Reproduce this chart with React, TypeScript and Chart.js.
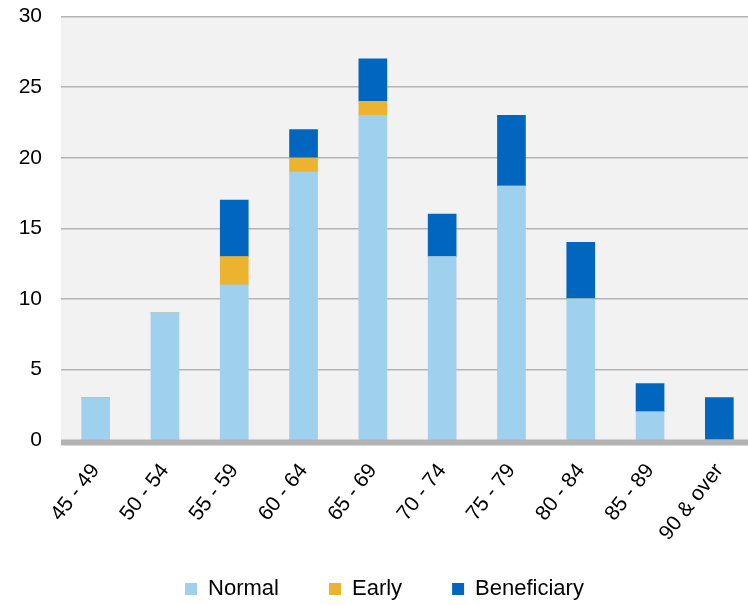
import React, { useEffect, useRef } from "react";
import { Chart, registerables } from "chart.js";

Chart.register(...registerables);

const categories = ["45 - 49", "50 - 54", "55 - 59", "60 - 64", "65 - 69", "70 - 74", "75 - 79", "80 - 84", "85 - 89", "90 & over"];
const normal = [3, 9, 11, 19, 23, 13, 18, 10, 2, 0];
const early = [0, 0, 2, 1, 1, 0, 0, 0, 0, 0];
const beneficiary = [0, 0, 4, 2, 3, 3, 5, 4, 2, 3];
const seriesNames = ["Normal", "Early", "Beneficiary"];
const seriesColors = ["#9fd0ed", "#ebb330", "#0066bf"];
const yMin = 0;
const yMax = 30;
const yStep = 5;

const W = 760;
const H = 610;
const FONT = "'Liberation Sans', Arial, sans-serif";

const areaPlugin = {
  id: "areaPlugin",
  beforeDraw(chart: any) {
    const { ctx, chartArea } = chart;
    ctx.save();
    ctx.fillStyle = "#f2f2f2";
    ctx.fillRect(chartArea.left, chartArea.top, chartArea.right - chartArea.left, chartArea.bottom - chartArea.top);
    ctx.restore();
  },
  afterDatasetsDraw(chart: any) {
    const { ctx, chartArea } = chart;
    ctx.save();
    ctx.fillStyle = "#b3b3b3";
    ctx.fillRect(chartArea.left, chartArea.bottom - 0.5, chartArea.right - chartArea.left, 6);
    ctx.restore();
  },
};

export default function App() {
  const ref = useRef<HTMLCanvasElement | null>(null);

  useEffect(() => {
    if (!ref.current) return;
    const data = [normal, early, beneficiary];
    const chart = new Chart(ref.current, {
      type: "bar",
      data: {
        labels: categories,
        datasets: seriesNames.map((name, i) => ({
          label: name,
          data: data[i],
          backgroundColor: seriesColors[i],
          borderWidth: 0,
          barThickness: 28,
        })),
      },
      options: {
        responsive: false,
        animation: false,
        devicePixelRatio: 1,
        layout: { padding: { left: 15, right: 6, top: 0, bottom: 0 } },
        plugins: {
          tooltip: { enabled: false },
          legend: {
            position: "bottom",
            labels: {
              boxWidth: 12,
              boxHeight: 12,
              padding: 50,
              color: "#000",
              font: { family: FONT, size: 22 },
            },
          },
        },
        scales: {
          x: {
            stacked: true,
            grid: { display: false, drawTicks: false },
            border: { display: false },
            ticks: {
              color: "#000",
              font: { family: FONT, size: 21 },
              maxRotation: 52,
              minRotation: 52,
              padding: 19,
              autoSkip: false,
            },
            afterFit(scale: any) {
              scale.height = 88;
              scale._computeLabelArea = () => undefined;
            },
          },
          y: {
            stacked: true,
            min: yMin,
            max: yMax,
            grid: {
              color: "#b4b4b4",
              lineWidth: (ctx: any) => (ctx.tick && ctx.tick.value === 0 ? 0 : 1.5),
              drawTicks: true,
              tickLength: 15,
              tickColor: "rgba(0,0,0,0)",
            },
            border: { display: false },
            ticks: {
              stepSize: yStep,
              color: "#000",
              font: { family: FONT, size: 21 },
              padding: 4,
            },
            afterFit(scale: any) {
              scale.width = 46;
            },
          },
        },
      },
      plugins: [areaPlugin],
    });
    return () => chart.destroy();
  }, []);

  return (
    <div style={{ position: "fixed", left: 0, top: 0, width: W, height: H, overflow: "hidden", background: "#fff" }}>
      <canvas ref={ref} width={W} height={H} style={{ width: W, height: H, display: "block" }} />
    </div>
  );
}
